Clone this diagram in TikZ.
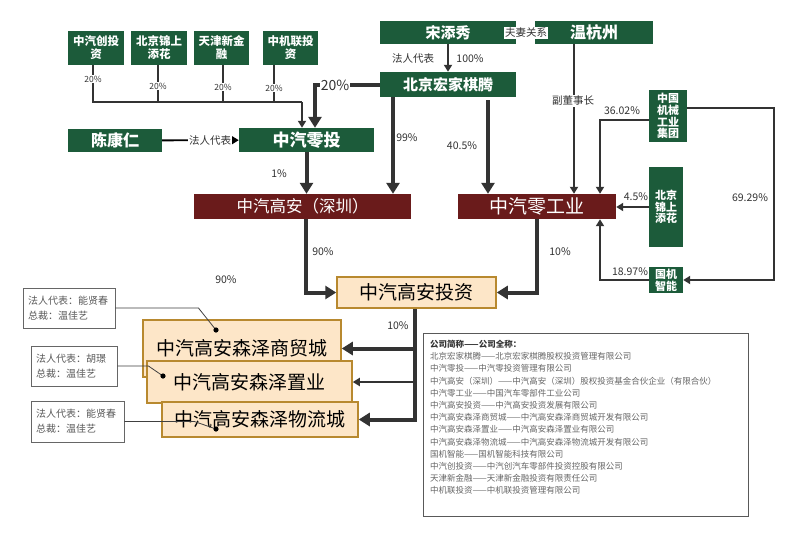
\documentclass[tikz,border=0pt]{standalone}
\usepackage{fontspec}
\setmainfont{Noto Sans CJK SC}
\usetikzlibrary{arrows.meta}
\definecolor{gbox}{HTML}{1C5B3A}
\definecolor{rbox}{HTML}{6A1B1B}
\definecolor{pfill}{HTML}{FDE6C8}
\definecolor{pdraw}{HTML}{B8892F}
\definecolor{ln}{HTML}{333333}
\begin{document}
\begin{tikzpicture}[x=1pt,y=-1pt,
  gb/.style={fill=gbox,text=white,inner sep=0pt,align=center},
  rb/.style={fill=rbox,text=white,inner sep=0pt},
  pb/.style={fill=pfill,draw=pdraw,line width=1.5pt,inner sep=0pt},
  co/.style={draw=black!60,line width=0.9pt,fill=white,inner ysep=0pt,inner xsep=5pt,align=left,text=black!65,font=\fontsize{10}{15}\selectfont},
  tl/.style={draw=ln,line width=2pt},
  tka/.style={draw=ln,line width=4pt,-{Triangle[width=13pt,length=11pt]}},
  tna/.style={draw=ln,line width=1.8pt,-{Triangle[width=8pt,length=7pt]}},
  lab/.style={inner sep=1pt,text=ln,font=\fontsize{10.5}{12}\selectfont},
  wlab/.style={lab,fill=white},
  cl/.style={draw=black!75,line width=0.8pt}]
\fill[white] (0,0) rectangle (800,541);
\useasboundingbox (0,0) rectangle (800,541);
% top small boxes
\node[gb,minimum width=56,minimum height=34,font=\fontsize{11.5}{13}\selectfont\bfseries] (cz) at (96,48) {中汽创投\\资};
\node[gb,minimum width=56,minimum height=34,font=\fontsize{11.5}{13}\selectfont\bfseries] (bj1) at (159,48) {北京锦上\\添花};
\node[gb,minimum width=55,minimum height=34,font=\fontsize{11.5}{13}\selectfont\bfseries] (tj) at (221.5,48) {天津新金\\融};
\node[gb,minimum width=55,minimum height=34,font=\fontsize{11.5}{13}\selectfont\bfseries] (zj) at (290.5,48) {中机联投\\资};
% persons and holding companies
\node[gb,minimum width=94,minimum height=23,font=\fontsize{16}{18}\selectfont\bfseries] (ckr) at (115,140.5) {陈康仁};
\node[gb,minimum width=135,minimum height=24,font=\fontsize{17}{19}\selectfont\bfseries] (zlt) at (306.5,140) {中汽零投};
\node[gb,minimum width=136,minimum height=23,font=\fontsize{15}{17}\selectfont\bfseries] (sts) at (448,32.5) {宋添秀};
\node[gb,minimum width=118,minimum height=23,font=\fontsize{16}{18}\selectfont\bfseries] (whz) at (594,32.5) {温杭州};
\node[gb,minimum width=136,minimum height=25,font=\fontsize{15}{17}\selectfont\bfseries] (bjh) at (448,84.5) {北京宏家棋腾};
\node[gb,minimum width=38,minimum height=52,font=\fontsize{11}{11.7}\selectfont\bfseries] (zgjx) at (668,116) {中国\\机械\\工业\\集团};
\node[gb,minimum width=34,minimum height=80,font=\fontsize{11}{11.7}\selectfont\bfseries] (bj2) at (666,207) {北京\\锦上\\添花};
\node[gb,minimum width=34,minimum height=26,font=\fontsize{11}{11.7}\selectfont\bfseries] (gjzn) at (666,280) {国机\\智能};
% red boxes
\node[rb,minimum width=217,minimum height=25,font=\fontsize{16.5}{18}\selectfont] (sz) at (302.5,206.5) {中汽高安（深圳）};
\node[rb,minimum width=158,minimum height=25,font=\fontsize{19}{21}\selectfont] (zlgy) at (537,206.5) {中汽零工业};
% peach boxes
\node[pb,minimum width=159,minimum height=31,font=\fontsize{19}{21}\selectfont] (tz) at (416.5,292.5) {中汽高安投资};
\node[pb,minimum width=198,minimum height=57,font=\fontsize{19}{21}\selectfont] (smc) at (242,348.5) {\raisebox{2pt}{中汽高安森泽商贸城}};
\node[pb,minimum width=205,minimum height=42,font=\fontsize{19}{21}\selectfont] (zy) at (249.5,382) {中汽高安森泽置业};
\node[pb,minimum width=196,minimum height=35,font=\fontsize{19}{21}\selectfont] (wlc) at (260,419.5) {中汽高安森泽物流城};
% top 20% connectors
\coordinate (j) at (302,102);
\draw[tl] ([xshift=-3]cz.south) |- (j);
\draw[tl] ([xshift=-1]bj1.south) |- (j);
\draw[tl] ([xshift=1.5]tj.south) |- (j);
\draw[tl] ([xshift=-16.5]zj.south) |- (j);
\draw[tna] (j) -- (j |- zlt.north);
\node[wlab,font=\fontsize{8.5}{9}\selectfont] at (93,79) {20\%};
\node[wlab,font=\fontsize{8.5}{9}\selectfont] at (158,86) {20\%};
\node[wlab,font=\fontsize{8.5}{9}\selectfont] at (223,87) {20\%};
\node[wlab,font=\fontsize{8.5}{9}\selectfont] at (274,88) {20\%};
% chen -> zlt
\draw[tna,draw=black] (ckr) -- (zlt);
\node[wlab] at (210,141) {法人代表};
% bjh -> zlt
\draw[tka] (bjh.west) -| ([xshift=8.5]zlt.north);
\node[wlab,font=\fontsize{14}{16}\selectfont] at (335,85.5) {20\%};
% zlt -> sz
\draw[tka] (zlt.south) -- (zlt.south |- sz.north);
\node[lab] at (279,174) {1\%};
% bjh -> sz
\draw[tka] ([xshift=-55]bjh.south) -- ([xshift=-55]bjh.south |- sz.north);
\node[lab] at (407,138) {99\%};
% sts -> bjh
\draw[tna] (sts) -- (bjh);
\node[lab] at (413,59) {法人代表};
\node[lab] at (470,59) {100\%};
% bjh -> zlgy
\draw[tka] ([xshift=40,yshift=-3]bjh.south) -- ([xshift=40]bjh.south |- zlgy.north);
\node[lab] at (462,146) {40.5\%};
% whz -> zlgy
\draw[tna] ([xshift=-20]whz.south) -- ([xshift=-20]whz.south |- zlgy.north);
\node[wlab] at (573,101) {副董事长};
\node[wlab] at (526,33) {夫妻关系};
% zgjx -> zlgy
\draw[tna] ([yshift=-4]zgjx.west) -| ([xshift=63]zlgy.north);
\node[lab] at (622,111) {36.02\%};
% zgjx -> gjzn
\coordinate (r) at (774,108);
\draw[tna] ([yshift=8]zgjx.east) -| (r |- gjzn.east) -- (gjzn.east);
\node[lab] at (750,198) {69.29\%};
% bj2 -> zlgy
\draw[tna] (bj2.west) -- (bj2.west -| zlgy.east);
\node[lab] at (636,197) {4.5\%};
% gjzn -> zlgy
\draw[tna] (gjzn.west) -| ([xshift=63]zlgy.south);
\node[lab] at (630,272) {18.97\%};
% sz -> tz, zlgy -> tz
\draw[tka] ([xshift=3.5]sz.south) |- (tz.west);
\node[lab] at (323,252) {90\%};
\draw[tka] (zlgy.south) |- (tz.east);
\node[lab] at (560,252) {10\%};
\node[lab] at (226,280) {90\%};
% tz -> subsidiaries
\draw[tka] ([xshift=-1.5]tz.south) |- (wlc.east);
\draw[tka] ([xshift=-1.5]tz.south) |- (smc.east);
\draw[tna] ([xshift=-1.5]tz.south) |- (zy.east);
\node[lab] at (398,326) {10\%};
% callouts
\node[co,minimum height=40,text width=82] (c1) at (69,308) {法人代表：能贤春\\总裁：温佳艺};
\node[co,minimum height=40,text width=76] (c2) at (74,366) {法人代表：胡璟\\总裁：温佳艺};
\node[co,minimum height=41,text width=83] (c3) at (77.5,421.5) {法人代表：能贤春\\总裁：温佳艺};
\coordinate (d1) at (216,330);
\coordinate (d2) at (163,376);
\coordinate (d3) at (216,429);
\draw[cl] (c1.east) -- ++(83,0) -- (d1);
\draw[cl] (c2.east) -- ++(31,0) -- (d2);
\draw[cl] (c3.east) -- ++(70,0) -- (d3);
\fill (d1) circle (2.6);
\fill (d2) circle (2.6);
\fill (d3) circle (2.6);
% legend
\node[draw=black!65,line width=0.9pt,minimum width=325,minimum height=183,anchor=north west,inner sep=0pt] (leg) at (423,333) {};
\node[anchor=north west,inner sep=0pt,align=left,text=black!60,font=\fontsize{8.5}{12.2}\selectfont] (legt) at (430,340) {{\bfseries\color{black!80}公司简称——公司全称：}\\
北京宏家棋腾——北京宏家棋腾股权投资管理有限公司\\
中汽零投——中汽零投资管理有限公司\\
中汽高安（深圳）——中汽高安（深圳）股权投资基金合伙企业（有限合伙）\\
中汽零工业——中国汽车零部件工业公司\\
中汽高安投资——中汽高安投资发展有限公司\\
中汽高安森泽商贸城——中汽高安森泽商贸城开发有限公司\\
中汽高安森泽置业——中汽高安森泽置业有限公司\\
中汽高安森泽物流城——中汽高安森泽物流城开发有限公司\\
国机智能——国机智能科技有限公司\\
中汽创投资——中汽创汽车零部件投资控股有限公司\\
天津新金融——天津新金融投资有限责任公司\\
中机联投资——中机联投资管理有限公司};
\end{tikzpicture}
\end{document}
